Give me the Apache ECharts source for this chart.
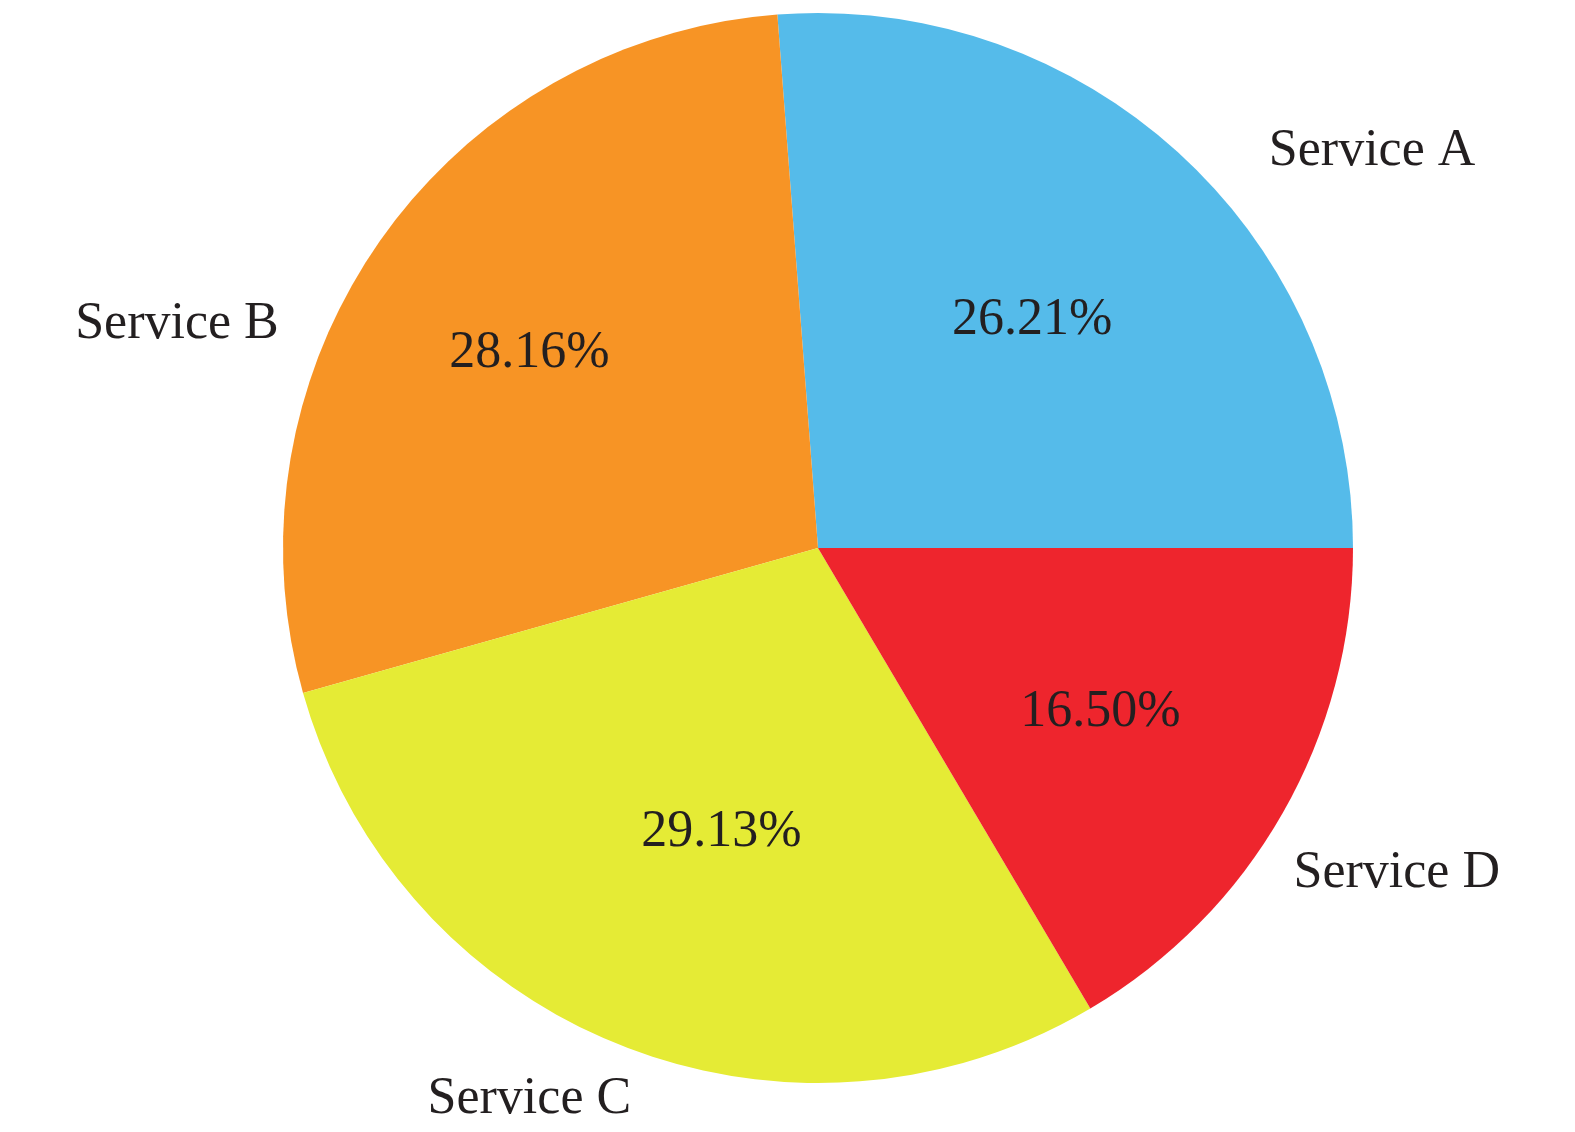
<!DOCTYPE html>
<html>
<head>
<meta charset="utf-8">
<title>Service share</title>
<script src="https://cdn.jsdelivr.net/npm/echarts@6/dist/echarts.min.js"></script>
<style>
  html, body { margin: 0; padding: 0; background: #ffffff; }
  #chart { width: 1575px; height: 1132px; }
</style>
</head>
<body>
<div id="chart"></div>
<script>
var services = ["Service A", "Service B", "Service C", "Service D"];
var shares = [26.21, 28.16, 29.13, 16.5];
var colors = ["#55bbea", "#f79425", "#e5eb35", "#ee252d"];

// nudges for the labels so they sit where the original put them
var outerShift = [[-1, 25], [-7, 106], [88, 18], [-85, 40]];
var innerShift = [[-6, 10], [-23, -9], [24, -16], [1, 4]];

var pieData = services.map(function (name, i) {
  return { name: name, value: shares[i], itemStyle: { color: colors[i] } };
});

var myChart = echarts.init(document.getElementById("chart"));
var textStyle = {
  fontFamily: "Liberation Serif",
  fontSize: 52,
  color: "#231f20"
};

var option = {
  animation: false,
  series: [
    {
      type: "pie",
      center: [818, 548],
      radius: [0, 535],
      startAngle: 0,
      clockwise: false,
      avoidLabelOverlap: false,
      silent: true,
      data: pieData,
      label: Object.assign({ show: true, position: "outside", formatter: "{b}" }, textStyle),
      labelLine: { show: false, length: 40, length2: 56 },
      labelLayout: function (params) {
        var s = outerShift[params.dataIndex];
        return { dx: s[0], dy: s[1] };
      }
    },
    {
      // transparent ring used only to place the percentage labels
      type: "pie",
      center: [818, 548],
      radius: [107, 535],
      startAngle: 0,
      clockwise: false,
      silent: true,
      data: services.map(function (name, i) {
        return { name: name, value: shares[i] };
      }),
      itemStyle: { color: "rgba(0,0,0,0)" },
      label: Object.assign({
        show: true,
        position: "inside",
        formatter: function (p) { return p.value.toFixed(2) + "%"; }
      }, textStyle),
      labelLine: { show: false },
      labelLayout: function (params) {
        var s = innerShift[params.dataIndex];
        return { dx: s[0], dy: s[1] };
      }
    }
  ]
};
myChart.setOption(option);
</script>
</body>
</html>
